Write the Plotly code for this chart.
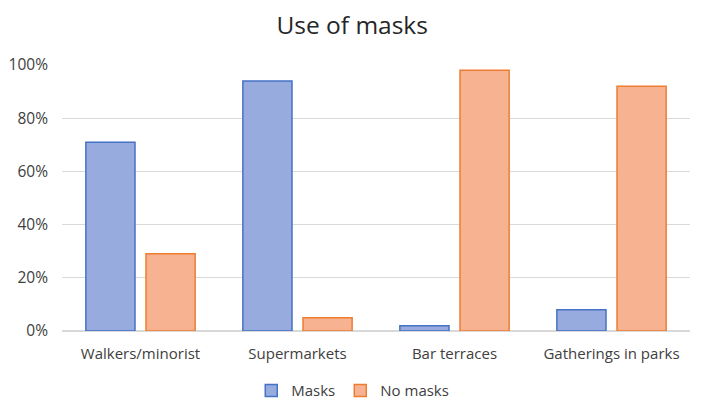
import plotly.graph_objects as go

categories = ["Walkers/minorist", "Supermarkets", "Bar terraces", "Gatherings in parks"]
masks = [0.71, 0.94, 0.02, 0.08]
no_masks = [0.29, 0.05, 0.98, 0.92]

fig = go.Figure()
fig.add_trace(go.Bar(x=categories, y=masks, name="Masks",
                     marker=dict(color="#98abdf", line=dict(color="#4472c4", width=1.5))))
fig.add_trace(go.Bar(x=categories, y=no_masks, name="No masks",
                     marker=dict(color="#f6b291", line=dict(color="#ed7d31", width=1.5))))

fig.update_layout(
    width=717, height=412,
    margin=dict(l=54, r=35, t=57, b=89, autoexpand=False),
    paper_bgcolor="white", plot_bgcolor="white",
    font=dict(family="Open Sans", size=14, color="#404040"),
    title=dict(text="Use of masks", x=0.48, xanchor="center", y=0.958, yanchor="middle",
               font=dict(size=24.5, color="#262626")),
    barmode="group", bargap=0.234, bargroupgap=0.183,
    legend=dict(orientation="h", x=0.463, xanchor="center", y=-0.225, yanchor="middle",
                font=dict(size=15, color="#404040"), itemwidth=30, tracegroupgap=0),
    showlegend=True,
)
fig.update_yaxes(range=[0, 1.0], tickvals=[0, 0.2, 0.4, 0.6, 0.8, 1.0],
                 tickformat=".0%", gridcolor="#d9d9d9", gridwidth=1, automargin=False,
                 zeroline=True, zerolinecolor="#d9d9d9", ticks="", ticklabelstandoff=13,
                 tickfont=dict(size=15.5, color="#404040"))
fig.update_xaxes(showline=True, linecolor="#d9d9d9", ticks="", ticklabelstandoff=9,
                 automargin=False, tickfont=dict(size=15, color="#404040"))

fig.write_html("out.html")
